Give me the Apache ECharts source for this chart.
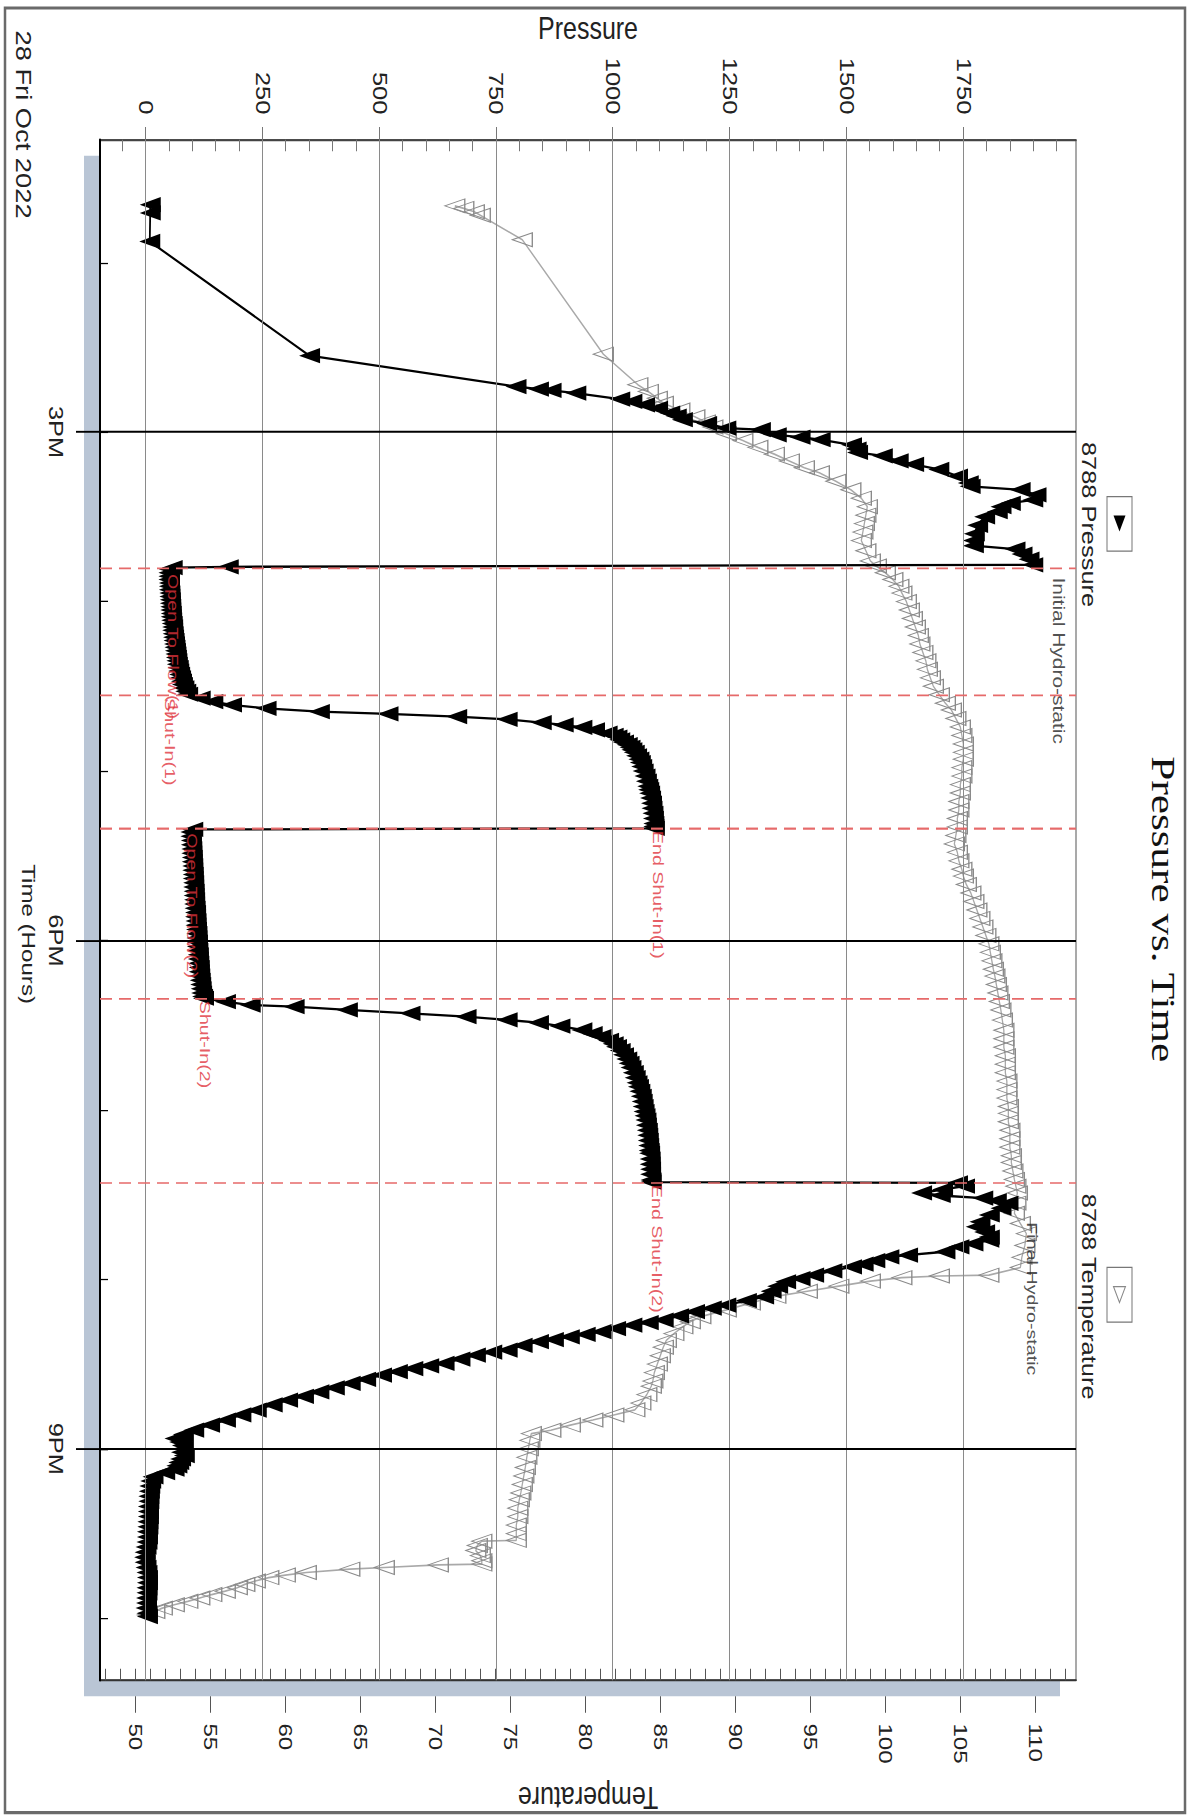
<!DOCTYPE html>
<html>
<head>
<meta charset="utf-8">
<script src="https://cdn.jsdelivr.net/npm/echarts@6/dist/echarts.min.js"></script>
<style>
html,body{margin:0;padding:0;background:#fff;}
#page{position:relative;width:1200px;height:1818px;overflow:hidden;background:#fff;}
#chart{position:absolute;left:0;top:0;width:1432px;height:1200px;transform-origin:0 0;transform:translate(1200px,0) rotate(90deg) scale(1.27,1);}
</style>
</head>
<body>
<div id="page"><div id="chart"></div></div>
<script>
// ---------------- data ----------------
const timeMajorTicks = [15, 18, 21];
const timeMajorLabels = ['3PM', '6PM', '9PM'];
const timeMinorTicks = [14, 15, 16, 17, 18, 19, 20, 21, 22];
const pressureTicks = [0, 250, 500, 750, 1000, 1250, 1500, 1750];
const pressureMinorTicks = [-50, 0, 50, 100, 150, 200, 250, 300, 350, 400, 450, 500, 550, 600, 650, 700, 750, 800, 850, 900, 950, 1000, 1050, 1100, 1150, 1200, 1250, 1300, 1350, 1400, 1450, 1500, 1550, 1600, 1650, 1700, 1750, 1800, 1850, 1900, 1950];
const temperatureTicks = [50, 55, 60, 65, 70, 75, 80, 85, 90, 95, 100, 105, 110];
const temperatureMinorTicks = [48, 49, 50, 51, 52, 53, 54, 55, 56, 57, 58, 59, 60, 61, 62, 63, 64, 65, 66, 67, 68, 69, 70, 71, 72, 73, 74, 75, 76, 77, 78, 79, 80, 81, 82, 83, 84, 85, 86, 87, 88, 89, 90, 91, 92, 93, 94, 95, 96, 97, 98, 99, 100, 101, 102, 103, 104, 105, 106, 107, 108, 109, 110, 111, 112];

// time in hours of 28 Oct 2022, pressure in psi
const pressureRunIn = [
  [13.658, 9], [13.707, 9], [13.875, 8], [14.549, 350], [14.731, 792], [14.746, 840], [14.754, 867],
  [14.770, 920], [14.805, 1014], [14.819, 1040], [14.839, 1067], [14.860, 1095], [14.888, 1121],
  [14.905, 1135], [14.927, 1148], [14.950, 1200], [14.976, 1241], [14.986, 1315], [15.016, 1349],
  [15.030, 1400], [15.045, 1443], [15.075, 1510], [15.100, 1520], [15.120, 1523], [15.140, 1576],
  [15.170, 1610], [15.190, 1643], [15.220, 1697], [15.260, 1737], [15.300, 1760], [15.320, 1764],
  [15.340, 1871], [15.370, 1905], [15.400, 1898], [15.420, 1850], [15.440, 1830], [15.470, 1822],
  [15.500, 1795], [15.550, 1780], [15.600, 1773], [15.640, 1771], [15.670, 1771], [15.690, 1860],
  [15.720, 1875], [15.750, 1890], [15.783, 1898], [15.795, 176]
];
const pressureFlow1 = [
  [15.800, 56], [15.81, 50], [15.83, 49], [15.85, 49], [15.87, 49], [15.89, 50], [15.91, 50], [15.93, 50],
  [15.95, 51], [15.97, 51], [15.99, 52], [16.01, 52], [16.03, 53], [16.05, 53], [16.07, 54], [16.09, 54],
  [16.11, 55], [16.13, 56], [16.15, 57], [16.17, 57], [16.19, 58], [16.21, 59], [16.23, 60], [16.25, 61],
  [16.27, 62], [16.29, 63], [16.31, 64], [16.33, 65], [16.35, 66], [16.37, 67], [16.39, 69], [16.41, 70],
  [16.43, 72], [16.45, 74], [16.47, 76], [16.49, 78], [16.51, 81], [16.53, 85], [16.547, 89]
];
const pressureShutIn1 = [
  [16.57, 116], [16.59, 143], [16.61, 183], [16.63, 257], [16.65, 371], [16.663, 518], [16.679, 665],
  [16.695, 773], [16.714, 846], [16.728, 893], [16.742, 933], [16.757, 960], [16.777, 987], [16.79, 1000],
  [16.80, 1008], [16.816, 1014], [16.83, 1022], [16.845, 1030], [16.86, 1036], [16.875, 1040], [16.89, 1045],
  [16.91, 1050], [16.93, 1055], [16.95, 1058], [16.974, 1061], [17.00, 1064], [17.03, 1068], [17.06, 1071],
  [17.09, 1074], [17.11, 1076], [17.131, 1078], [17.16, 1080], [17.19, 1082], [17.22, 1083], [17.25, 1085],
  [17.28, 1086], [17.31, 1087], [17.328, 1087], [17.338, 1088]
];
const pressureFlow2 = [
  [17.345, 100], [17.36, 96], [17.385, 96], [17.41, 97], [17.435, 97], [17.46, 98], [17.485, 98], [17.51, 99],
  [17.535, 99], [17.56, 100], [17.585, 100], [17.61, 101], [17.635, 101], [17.66, 102], [17.685, 102],
  [17.71, 103], [17.735, 103], [17.76, 104], [17.785, 104], [17.81, 105], [17.835, 106], [17.86, 106],
  [17.885, 107], [17.91, 107], [17.935, 108], [17.96, 109], [17.985, 109], [18.01, 110], [18.035, 110],
  [18.06, 111], [18.085, 112], [18.11, 112], [18.135, 113], [18.16, 114], [18.185, 114], [18.21, 115],
  [18.235, 116], [18.26, 117], [18.285, 118], [18.31, 119], [18.33, 121], [18.341, 123]
];
const pressureShutIn2 = [
  [18.361, 170], [18.381, 223], [18.391, 317], [18.41, 431], [18.43, 565], [18.45, 685], [18.469, 773],
  [18.485, 840], [18.505, 886], [18.528, 933], [18.55, 955], [18.568, 974], [18.59, 990], [18.61, 1000],
  [18.627, 1007], [18.65, 1015], [18.675, 1022], [18.70, 1029], [18.725, 1034], [18.75, 1038], [18.78, 1043],
  [18.81, 1047], [18.84, 1051], [18.863, 1054], [18.89, 1057], [18.92, 1060], [18.95, 1062], [18.98, 1064],
  [19.01, 1066], [19.035, 1068], [19.06, 1070], [19.09, 1071], [19.12, 1073], [19.15, 1074], [19.18, 1075],
  [19.21, 1076], [19.24, 1077], [19.256, 1078], [19.29, 1079], [19.32, 1079], [19.35, 1080], [19.38, 1080],
  [19.414, 1081], [19.426, 1081]
];
const pressurePullOut = [
  [19.43, 1737], [19.45, 1752], [19.47, 1705], [19.49, 1660], [19.505, 1700], [19.52, 1791], [19.535, 1820],
  [19.551, 1845], [19.58, 1830], [19.62, 1805], [19.66, 1785], [19.69, 1777], [19.72, 1795], [19.75, 1805],
  [19.768, 1804], [19.79, 1770], [19.808, 1740], [19.837, 1710], [19.857, 1630], [19.867, 1590], [19.89, 1560],
  [19.91, 1535], [19.926, 1510], [19.95, 1468], [19.975, 1429], [19.995, 1400], [20.014, 1369], [20.04, 1352],
  [20.07, 1338], [20.103, 1322], [20.125, 1285], [20.152, 1241], [20.17, 1210], [20.191, 1174], [20.215, 1140],
  [20.240, 1107], [20.255, 1075], [20.270, 1040], [20.29, 1005], [20.309, 974], [20.325, 940], [20.339, 906],
  [20.355, 872], [20.368, 840], [20.39, 805], [20.417, 773], [20.43, 740], [20.447, 705], [20.47, 672],
  [20.496, 638], [20.51, 605], [20.526, 571], [20.545, 538], [20.565, 504], [20.59, 470], [20.614, 437],
  [20.64, 403], [20.664, 370], [20.69, 337], [20.713, 303], [20.74, 270], [20.772, 236], [20.80, 203],
  [20.831, 170], [20.86, 136], [20.89, 102], [20.915, 80], [20.939, 62], [20.96, 72], [20.98, 78],
  [21.00, 80], [21.02, 76], [21.04, 82], [21.06, 74], [21.08, 70], [21.10, 66], [21.12, 60], [21.14, 40],
  [21.165, 15], [21.19, 10], [21.22, 8], [21.25, 7], [21.28, 6], [21.31, 6], [21.34, 5], [21.37, 5],
  [21.40, 5], [21.43, 4], [21.46, 4], [21.49, 3], [21.52, 3], [21.55, 2], [21.58, 0], [21.61, -2],
  [21.64, -3], [21.67, -2], [21.70, 0], [21.73, 2], [21.76, 3], [21.79, 3], [21.82, 2], [21.85, 2],
  [21.88, 1], [21.91, 1], [21.94, 0], [21.97, 2], [21.99, 3]
];

// temperature in deg F
const temperatureRunIn = [
  [13.665, 71.3], [13.68, 71.9], [13.70, 72.6], [13.72, 73.0], [13.865, 75.8], [14.54, 81.2], [14.72, 83.5],
  [14.76, 84.2], [14.80, 84.8], [14.83, 85.2], [14.87, 86.3], [14.91, 87.3], [14.94, 88.0], [14.97, 88.5],
  [15.01, 89.4], [15.05, 90.5], [15.09, 91.5], [15.13, 92.6], [15.17, 93.6], [15.21, 94.6], [15.24, 95.6],
  [15.29, 96.7], [15.34, 97.7], [15.39, 98.4], [15.44, 98.8], [15.49, 98.7], [15.54, 98.6], [15.59, 98.5],
  [15.64, 98.4], [15.70, 98.7], [15.76, 99.0]
];
const temperatureTest = [
  [15.79, 99.4], [15.83, 100.0], [15.87, 100.5], [15.91, 100.9], [15.95, 101.1], [16.00, 101.4], [16.05, 101.6],
  [16.10, 101.8], [16.15, 102.0], [16.20, 102.2], [16.25, 102.3], [16.30, 102.5], [16.35, 102.7], [16.40, 102.8],
  [16.45, 103.0], [16.50, 103.2], [16.55, 103.6], [16.60, 104.0], [16.64, 104.4], [16.69, 104.7], [16.74, 105.0],
  [16.79, 105.1], [16.84, 105.2], [16.89, 105.2], [16.93, 105.2], [16.98, 105.1], [17.03, 105.1], [17.08, 105.0],
  [17.13, 105.0], [17.18, 104.9], [17.23, 104.9], [17.28, 104.8], [17.33, 104.8], [17.38, 104.7], [17.43, 104.6],
  [17.48, 104.8], [17.53, 104.9], [17.58, 105.1], [17.62, 105.2], [17.67, 105.4], [17.72, 105.7], [17.77, 105.9],
  [17.82, 106.1], [17.87, 106.3], [17.92, 106.5], [17.97, 106.7], [18.02, 106.9], [18.07, 107.0], [18.12, 107.1],
  [18.17, 107.2], [18.21, 107.3], [18.26, 107.4], [18.31, 107.5], [18.36, 107.6], [18.41, 107.7], [18.47, 107.8],
  [18.53, 107.9], [18.58, 107.9], [18.63, 107.9], [18.68, 108.0], [18.73, 108.0], [18.78, 108.0], [18.83, 108.1],
  [18.88, 108.1], [18.93, 108.1], [18.98, 108.2], [19.02, 108.2], [19.07, 108.2], [19.12, 108.3], [19.17, 108.3],
  [19.22, 108.3], [19.27, 108.4], [19.31, 108.4], [19.36, 108.5], [19.41, 108.6], [19.45, 108.7], [19.49, 108.8],
  [19.55, 108.7], [19.61, 108.6], [19.67, 109.0], [19.73, 109.4], [19.80, 109.3], [19.87, 109.1], [19.93, 109.0]
];
const temperaturePullOut = [
  [19.975, 106.9], [19.98, 103.6], [19.99, 101.1], [20.01, 99.0], [20.04, 96.9], [20.07, 94.8], [20.10, 92.7],
  [20.14, 91.0], [20.18, 89.4], [20.22, 87.7], [20.25, 87.0], [20.28, 86.5], [20.32, 85.9], [20.36, 85.4],
  [20.40, 85.2], [20.45, 85.0], [20.50, 84.8], [20.55, 84.6], [20.60, 84.5], [20.63, 84.4], [20.68, 84.1],
  [20.73, 83.7], [20.77, 83.3], [20.80, 81.9], [20.83, 80.5], [20.86, 79.0], [20.89, 77.7], [20.91, 76.4],
  [20.95, 76.3], [21.00, 76.2], [21.05, 76.1], [21.11, 76.0], [21.16, 75.9], [21.21, 75.8], [21.26, 75.7],
  [21.30, 75.6], [21.35, 75.5], [21.40, 75.5], [21.45, 75.4], [21.50, 75.4], [21.54, 75.4], [21.545, 73.1],
  [21.57, 72.8], [21.60, 72.7], [21.63, 73.0], [21.66, 73.1], [21.68, 73.1], [21.685, 70.2], [21.70, 66.6],
  [21.71, 64.3], [21.73, 61.4], [21.745, 60.0], [21.76, 58.9], [21.78, 58.0], [21.80, 57.3], [21.82, 56.8],
  [21.84, 56.0], [21.86, 55.1], [21.88, 54.3], [21.90, 53.5], [21.92, 52.6], [21.94, 51.8], [21.96, 51.3],
  [21.98, 50.8]
];

// test events (dashed markers) and annotations
const eventTimes = [15.80, 16.547, 17.338, 17.345, 18.341, 19.427];
const annotationNames = ['Open To Flow(1)', 'Shut-In(1)', 'End Shut-In(1)', 'Open To Flow(2)', 'Shut-In(2)', 'End Shut-In(2)', 'Initial Hydro-static', 'Final Hydro-static'];
const annotationTimes = [15.80, 16.547, 17.338, 17.345, 18.341, 19.427, 15.783, 19.551];
const annotationPressures = [55, 89, 1088, 100, 123, 1081, 1898, 1845];

// ---------------- layout / style ----------------
const W = 1432, H = 1200;
const GRID = { left: 110, right: 109, top: 124, bottom: 100 };
const AX = { tMin: 13.2745, tMax: 22.3654, pMin: -98.5, pMax: 1990.6, tempMin: 47.65, tempMax: 112.71 };
const SANS = '"Liberation Sans", Arial, Helvetica, sans-serif';
const SERIF = '"Liberation Serif", "Times New Roman", serif';
const RED = '#e0333c';
const annotationStyles = [
  { color: RED, va: 'bottom', off: [5, 6] },
  { color: RED, va: 'top', off: [3, 9] },
  { color: RED, va: 'bottom', off: [2, 4] },
  { color: RED, va: 'bottom', off: [3, 8] },
  { color: RED, va: 'bottom', off: [2, 6] },
  { color: RED, va: 'bottom', off: [2, 2] },
  { color: '#222', va: 'bottom', off: [10, -17], size: 16.5 },
  { color: '#222', va: 'bottom', off: [15, -16], size: 15.5 }
];

const pressureData = [].concat(pressureRunIn, pressureFlow1, pressureShutIn1, pressureFlow2, pressureShutIn2, pressurePullOut);
const temperatureData = [].concat(temperatureRunIn, temperatureTest, temperaturePullOut);

const plotW = W - GRID.left - GRID.right;
const plotH = H - GRID.top - GRID.bottom;

const chart = echarts.init(document.getElementById('chart'), null, { renderer: 'svg', width: W, height: H });

function timeAxisBase() {
  return { type: 'value', gridIndex: 0, min: AX.tMin, max: AX.tMax, position: 'bottom', splitLine: { show: false } };
}
const plainNumber = v => String(v);

const option = {
  animation: false,
  backgroundColor: '#fff',
  title: {
    text: 'Pressure vs. Time', left: 'center', top: 14,
    textStyle: { fontFamily: SERIF, fontSize: 34, fontWeight: 'normal', color: '#111' }
  },
  grid: {
    left: GRID.left, right: GRID.right, top: GRID.top, bottom: GRID.bottom,
    show: true, backgroundColor: '#fff', borderColor: '#555', borderWidth: 1,
    containLabel: false, outerBoundsMode: 'none'
  },
  xAxis: [
    Object.assign(timeAxisBase(), {
      name: 'Time (Hours)', nameLocation: 'middle', nameGap: 62,
      nameTextStyle: { fontFamily: SANS, fontSize: 19, color: '#222', padding: [0, 0, 0, 38] },
      axisLine: { show: true, onZero: false, lineStyle: { color: '#000', width: 2 } },
      axisTick: { show: true, inside: true, length: 8, customValues: timeMinorTicks, lineStyle: { color: '#000', width: 1 } },
      axisLabel: {
        show: true, customValues: timeMajorTicks, margin: 34, fontFamily: SANS, fontSize: 20, color: '#222',
        formatter: v => timeMajorLabels[timeMajorTicks.indexOf(v)] || ''
      }
    }),
    Object.assign(timeAxisBase(), {
      axisLine: { show: false, onZero: false },
      axisTick: { show: true, inside: false, length: 24, customValues: timeMajorTicks, lineStyle: { color: '#000', width: 1.5 } },
      axisLabel: { show: false }
    })
  ],
  yAxis: [
    {
      type: 'value', gridIndex: 0, min: AX.pMin, max: AX.pMax, position: 'left',
      name: 'Pressure', nameLocation: 'middle', nameRotate: 90, nameGap: 74,
      nameTextStyle: { fontFamily: SANS, fontSize: 25, color: '#222' },
      axisLine: { show: true, onZero: false, lineStyle: { color: '#444', width: 1.4 } },
      axisTick: { show: true, inside: false, length: 10, customValues: pressureTicks, lineStyle: { color: '#777', width: 1 } },
      axisLabel: { show: true, customValues: pressureTicks, margin: 20, fontFamily: SANS, fontSize: 20, color: '#222', formatter: plainNumber },
      splitLine: { show: false }
    },
    {
      type: 'value', gridIndex: 0, min: AX.pMin, max: AX.pMax, position: 'left',
      axisLine: { show: false, onZero: false },
      axisTick: { show: true, inside: true, length: 9, customValues: pressureMinorTicks, lineStyle: { color: '#777', width: 1 } },
      axisLabel: { show: false }, splitLine: { show: false }
    },
    {
      type: 'value', gridIndex: 0, min: AX.tempMin, max: AX.tempMax, position: 'right',
      name: 'Temperature', nameLocation: 'middle', nameRotate: -90, nameGap: 80,
      nameTextStyle: { fontFamily: SANS, fontSize: 25, color: '#222' },
      axisLine: { show: true, onZero: false, lineStyle: { color: '#333', width: 1.6 } },
      axisTick: { show: true, inside: true, length: 9, customValues: temperatureMinorTicks, lineStyle: { color: '#555', width: 1 } },
      axisLabel: { show: true, customValues: temperatureTicks, margin: 34, fontFamily: SANS, fontSize: 19, color: '#222', formatter: plainNumber },
      splitLine: { show: false }
    },
    {
      type: 'value', gridIndex: 0, min: AX.tempMin, max: AX.tempMax, position: 'right', offset: 12.6,
      axisLine: { show: false, onZero: false },
      axisTick: { show: true, inside: false, length: 13, customValues: temperatureTicks, lineStyle: { color: '#555', width: 1 } },
      axisLabel: { show: false }, splitLine: { show: false }
    }
  ],
  graphic: {
    elements: [
      { type: 'rect', z: -2, silent: true, shape: { x: 6.3, y: 15, width: 1421, height: 1180 }, style: { fill: '#fff', stroke: '#6a6a6a', lineWidth: 2.5 } },
      { type: 'rect', z: -1, silent: true, shape: { x: GRID.left + 12.6, y: GRID.top + 16, width: plotW, height: plotH }, style: { fill: '#b9c5d5' } },
      { type: 'text', silent: true, style: { x: 24, y: 1177, text: '28 Fri Oct 2022', font: '21.5px ' + SANS, fill: '#222', verticalAlign: 'middle', align: 'left' } },
      // legend: pressure
      { type: 'rect', silent: true, shape: { x: 391, y: 68, width: 43, height: 25 }, style: { fill: '#fff', stroke: '#777', lineWidth: 1 } },
      { type: 'polygon', silent: true, shape: { points: [[406, 74.5], [418.6, 80.5], [406, 86.5]] }, style: { fill: '#000' } },
      { type: 'text', silent: true, style: { x: 413, y: 111, text: '8788 Pressure', font: '20px ' + SANS, fill: '#222', align: 'center', verticalAlign: 'middle' } },
      // legend: temperature
      { type: 'rect', silent: true, shape: { x: 998, y: 68, width: 43, height: 25 }, style: { fill: '#fff', stroke: '#777', lineWidth: 1 } },
      { type: 'polygon', silent: true, shape: { points: [[1013, 74.5], [1025.6, 80.5], [1013, 86.5]] }, style: { fill: '#fff', stroke: '#888', lineWidth: 1 } },
      { type: 'text', silent: true, style: { x: 1021, y: 111, text: '8788 Temperature', font: '20px ' + SANS, fill: '#222', align: 'center', verticalAlign: 'middle' } }
    ]
  },
  series: [
    {
      name: 'gridlines', type: 'line', xAxisIndex: 0, yAxisIndex: 0, data: [], silent: true, z: 1,
      markLine: {
        silent: true, symbol: 'none', animation: false, label: { show: false },
        data: [].concat(
          pressureTicks.map(v => ({ yAxis: v, lineStyle: { color: '#8a8a8a', width: 1, type: 'solid' } })),
          timeMajorTicks.map(v => ({ xAxis: v, lineStyle: { color: '#000', width: 1.5, type: 'solid' } })),
          eventTimes.map(v => ({ xAxis: v, lineStyle: { color: '#e66a6a', width: 1.3, type: [12, 7] } }))
        )
      }
    },
    {
      name: '8788 Temperature', type: 'line', xAxisIndex: 0, yAxisIndex: 2, data: temperatureData, z: 2,
      showAllSymbol: true, symbol: 'triangle', symbolRotate: 180, symbolSize: [11, 20],
      itemStyle: { color: 'rgba(255,255,255,0)', borderColor: '#8a8a8a', borderWidth: 1 },
      lineStyle: { color: '#a9a9a9', width: 1.3 }
    },
    {
      name: '8788 Pressure', type: 'line', xAxisIndex: 0, yAxisIndex: 0, data: pressureData, z: 3,
      showAllSymbol: true, symbol: 'triangle', symbolRotate: 180, symbolSize: [12, 21],
      itemStyle: { color: '#000' },
      lineStyle: { color: '#000', width: 1.8 }
    },
    {
      name: 'annotations', type: 'scatter', xAxisIndex: 0, yAxisIndex: 0, z: 4, silent: true,
      symbolSize: 0.1, itemStyle: { color: 'rgba(0,0,0,0)' },
      data: annotationNames.map((n, i) => {
        const s = annotationStyles[i];
        return {
          value: [annotationTimes[i], annotationPressures[i]], name: n,
          label: {
            show: true, position: 'inside', formatter: n, align: 'left', verticalAlign: s.va,
            offset: s.off, color: s.color, fontFamily: SANS, fontSize: s.size || 15.5
          }
        };
      })
    }
  ]
};
chart.setOption(option);
</script>
</body>
</html>
